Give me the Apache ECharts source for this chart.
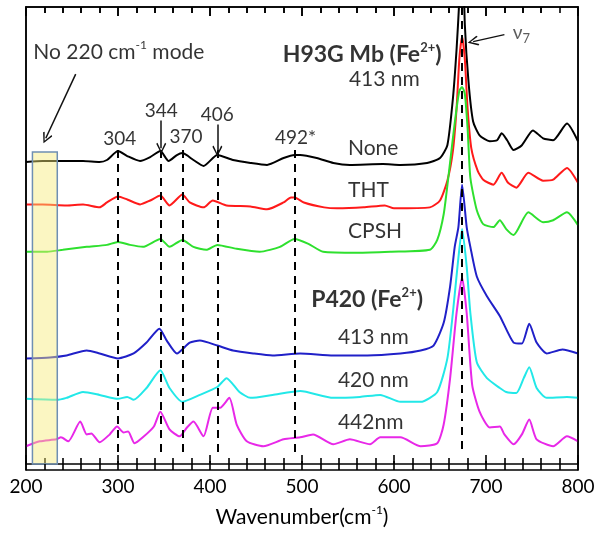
<!DOCTYPE html>
<html><head><meta charset="utf-8">
<script src="https://cdn.jsdelivr.net/npm/echarts@6/dist/echarts.min.js"></script>
<style>
html,body{margin:0;padding:0;background:#fff}
#wrap{position:relative;width:600px;height:535px}
#c,#frame{position:absolute;left:0;top:0;width:600px;height:535px}
#frame{pointer-events:none}
</style>
</head><body><div id="wrap"><div id="c"></div><div id="frame"></div></div>
<script>
// ---- data (wavenumber in cm-1, offset intensity in arbitrary units) ----
const xTickLabels = [200, 300, 400, 500, 600, 700, 800];

const noneX = [200,218,244,262,280,288,300,310,324,335,346,355,364,370,382,393,408,425,444,462,480,492,498,516,534,552,588,607,636,650,658,664,668,671,674,677,681,686,693,704,712,717,723,730,739,751,762,773,788,800];
const noneY = [306,307,307,307,306,308,317,312,307,311,317,307,313,315,308,302,313,308,305,303,310,313,313,310,305,303,304,303,305,310,323,370,420,470,540,445,387,347,333,327,328,335,328,318,323,338,330,328,345,327];

const thtX = [200,218,244,262,280,288,300,310,324,335,346,356,370,378,393,403,418,444,462,480,488,492,502,524,538,567,590,600,639,650,658,664,668,671,674,677,680,684,691,697,708,717,724,733,746,762,773,788,800];
const thtY = [263,263,262,263,260,265,271,268,263,267,272,262,273,265,260,267,262,261,258,265,270,270,265,260,259,260,262,259,260,267,287,317,360,410,433,410,360,320,297,288,283,295,285,280,295,287,288,300,285];

const cpshX = [200,223,240,266,288,300,313,327,346,356,370,382,396,408,429,454,476,492,507,523,560,596,639,647,654,659,664,668,671,674,677,680,683,690,697,708,715,722,730,746,762,773,788,800];
const cpshY = [215,215,217,220,222,225,222,220,228,220,227,220,217,222,218,215,220,228,223,215,214,215,217,227,253,290,330,360,378,382,375,340,290,257,243,240,247,238,232,255,245,247,255,242];

const p413X = [200,226,244,266,280,300,317,331,345,353,364,378,389,408,425,447,468,498,534,571,607,629,643,654,661,666,670,674,679,683,690,701,715,730,739,747,755,766,783,800];
const p413Y = [107,108,110,115,112,107,112,123,137,125,112,123,125,120,115,112,110,112,110,110,112,115,120,143,180,220,240,283,240,220,190,170,150,123,122,142,123,112,116,112];

const p420X = [200,233,244,262,280,300,310,317,331,346,356,370,389,408,418,432,444,468,498,534,563,585,607,629,647,658,664,669,674,679,683,690,701,715,722,733,741,747,755,766,788,800];
const p420Y = [66,65,67,73,70,66,68,65,77,95,77,63,70,78,87,73,67,70,74,67,68,70,63,63,73,107,153,200,238,200,153,103,87,77,73,72,87,98,77,67,68,67];

const p442X = [200,215,233,238,246,259,266,271,280,291,299,306,311,318,327,339,346,356,367,375,382,393,403,411,421,429,440,458,480,498,512,534,552,574,585,607,629,647,654,661,668,674,679,685,693,704,715,720,730,739,747,755,773,788,800];
const p442Y = [18,23,25,27,23,43,30,31,22,30,38,32,33,21,27,38,53,35,28,37,43,28,57,57,67,40,23,18,25,27,30,20,25,20,27,27,18,21,40,87,153,189,153,80,53,37,38,30,20,30,45,25,18,28,23];

const peakPositions = [300, 346, 370, 408, 492, 674];
const noModeBand = [207, 234];

const seriesNames = ['None', 'THT', 'CPSH', '413 nm', '420 nm', '442nm'];
const seriesColors = ['#000000', '#ff1a1a', '#2ee02e', '#2020c8', '#22e8e8', '#e828e8'];
const seriesX = [noneX, thtX, cpshX, p413X, p420X, p442X];
const seriesY = [noneY, thtY, cpshY, p413Y, p420Y, p442Y];

// ---- chart ----
const FONT = 'Lato';
const Y_MIN = 0, Y_MAX = 463;
const X_MIN = 200, X_MAX = 800, X_STEP = 100;
const GRID = {left: 26, top: 7, width: 552, height: 463};
const chart = echarts.init(document.getElementById('c'));

const zip = (xs, ys) => xs.map((x, i) => [x, ys[i]]);

const supRich = {
  sup: {fontSize: 12, fontFamily: FONT, verticalAlign: 'top', lineHeight: 12, color: '#000'},
  supB: {fontSize: 13, fontFamily: FONT, fontWeight: 'bold', verticalAlign: 'top', lineHeight: 13, color: '#000'},
  sub: {fontSize: 13, fontFamily: FONT, verticalAlign: 'bottom', lineHeight: 13, color: '#333'}
};

const annotations = [
  {text: 'No 220 cm{sup|-1} mode', x: 208, y: 417, align: 'left', size: 21},
  {text: '304', x: 302, y: 329, align: 'center', size: 19},
  {text: '344', x: 347, y: 358, align: 'center', size: 19},
  {text: '370', x: 374, y: 331, align: 'center', size: 19},
  {text: '406', x: 408, y: 354, align: 'center', size: 19},
  {text: '492*', x: 493, y: 330, align: 'center', size: 19},
  {text: 'H93G Mb (Fe{supB|2+})', x: 479, y: 415, align: 'left', size: 23, bold: true},
  {text: '413 nm', x: 551, y: 390, align: 'left', size: 21},
  {text: 'None', x: 550, y: 320, align: 'left', size: 21},
  {text: 'THT', x: 550, y: 277, align: 'left', size: 21},
  {text: 'CPSH', x: 550, y: 236, align: 'left', size: 21},
  {text: 'P420 (Fe{supB|2+})', x: 510, y: 167, align: 'left', size: 23, bold: true},
  {text: '413 nm', x: 539, y: 128, align: 'left', size: 21},
  {text: '420 nm', x: 539, y: 85, align: 'left', size: 21},
  {text: '442nm', x: 539, y: 42, align: 'left', size: 21},
  {text: 'ν{sub|7}', x: 729, y: 437, align: 'left', size: 19, grey: true}
];

const arrows = [
  {from: [254, 395], to: [221.5, 330], w: 1.5},
  {from: [347, 348], to: [347, 320], w: 1.5},
  {from: [408, 344], to: [408, 317], w: 1.5},
  {from: [720, 435], to: [686, 428], w: 1.2}
];

const chevron = 'path://M5,0 L10,9 L8.8,10 L5,2.6 L1.2,10 L0,9 Z';

const series = seriesNames.map((name, i) => ({
  name, type: 'line', data: zip(seriesX[i], seriesY[i]),
  showSymbol: false, symbol: 'none', clip: true, smooth: 0.2,
  lineStyle: {color: seriesColors[i], width: 2}, z: 3, silent: true
}));

series.push({
  name: 'peaks', type: 'line', data: [], silent: true, z: 4,
  markLine: {
    silent: true, symbol: ['none', 'none'], animation: false,
    label: {show: false},
    lineStyle: {color: '#000', width: 2, type: [8, 6]},
    data: peakPositions.map(p => [{coord: [p, p === 674 ? Y_MAX : 318]}, {coord: [p, 11]}])
  }
});

series.push({
  name: 'band', type: 'line', data: [], silent: true, z: 10,
  markArea: {
    silent: true, z: 10,
    itemStyle: {color: 'rgba(246,236,120,0.45)', borderColor: '#6f8fb3', borderWidth: 1.5},
    data: [[{coord: [noModeBand[0], 316]}, {coord: [noModeBand[1], 0]}]]
  }
});

arrows.forEach((a, i) => series.push({
  name: 'arrow' + i, type: 'line', data: [], silent: true, z: 5,
  markLine: {
    silent: true, animation: false, symbol: ['none', chevron], symbolSize: [10, 11],
    label: {show: false},
    lineStyle: {color: '#111', width: a.w, type: 'solid'},
    data: [[{coord: a.from}, {coord: a.to}]]
  }
}));

series.push({
  name: 'labels', type: 'scatter', symbolSize: 0, silent: true, z: 6,
  data: annotations.map(a => ({
    value: [a.x, a.y],
    label: {
      show: true, position: [0, 0], align: a.align, verticalAlign: 'middle',
      formatter: a.text, fontFamily: FONT, fontSize: a.size,
      fontWeight: a.bold ? 'bold' : 'normal', color: a.grey ? '#333' : '#000',
      lineHeight: 26, rich: supRich
    }
  }))
});

const majorLen = 9, minorLen = 6;
const frameX = (pos) => ({
  type: 'value', min: X_MIN, max: X_MAX, interval: X_STEP, position: pos,
  axisLine: {show: true, onZero: false, lineStyle: {color: '#000', width: 1.5}},
  axisTick: {show: true, inside: true, length: majorLen, lineStyle: {color: '#000', width: 1.6}},
  minorTick: {show: true, splitNumber: 5, length: minorLen, lineStyle: {color: '#000', width: 1.6}},
  splitLine: {show: false}, axisLabel: {show: false}
});
const frameY = (pos) => ({
  type: 'value', min: Y_MIN, max: Y_MAX, position: pos,
  axisLine: {show: true, onZero: false, lineStyle: {color: '#000', width: 1.5}},
  axisTick: {show: false}, axisLabel: {show: false}, splitLine: {show: false}
});

chart.setOption({
  animation: false,
  grid: GRID,
  xAxis: [
    Object.assign(frameX('bottom'), {
      axisLabel: {show: true, margin: 13, fontFamily: FONT, fontSize: 19, color: '#000',
        formatter: v => xTickLabels.includes(v) ? String(v) : ''},
      name: 'Wavenumber(cm{sup|-1})', nameLocation: 'middle', nameGap: 40,
      nameTextStyle: {fontFamily: FONT, fontSize: 21, color: '#000', lineHeight: 26, rich: supRich}
    }),
    frameX('top')
  ],
  yAxis: [frameY('left'), frameY('right')],
  series
});

// frame layer: the same axes drawn once more on a transparent overlay so the
// inward major/minor ticks on the top and bottom edges are shown
const frame = echarts.init(document.getElementById('frame'));
frame.setOption({
  animation: false,
  backgroundColor: 'rgba(0,0,0,0)',
  grid: GRID,
  xAxis: [frameX('bottom'), frameX('top')],
  yAxis: [frameY('left'), frameY('right')],
  series: [{type: 'line', data: [[X_MIN, Y_MIN], [X_MAX, Y_MIN]], lineStyle: {opacity: 0}, showSymbol: false, silent: true}]
});
</script>
</body></html>
